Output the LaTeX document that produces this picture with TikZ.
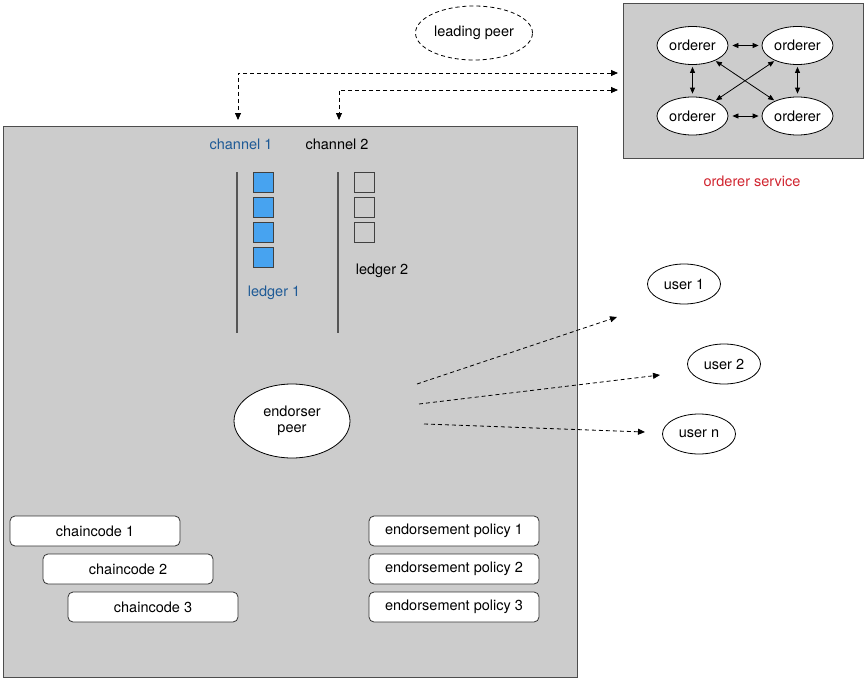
\documentclass[tikz,border=0pt]{standalone}
\usepackage{fontspec}
\setmainfont{TeX Gyre Heros}
\usetikzlibrary{shapes.geometric,arrows.meta}
\definecolor{panelgray}{HTML}{CCCCCC}
\definecolor{edgegray}{HTML}{4D4D4D}
\definecolor{railgray}{HTML}{555555}
\definecolor{blockblue}{HTML}{47A3F0}
\definecolor{chanblue}{HTML}{1E5A96}
\definecolor{svcred}{HTML}{D0242F}
\begin{document}
\begin{tikzpicture}[x=1pt,y=-1pt,
  every node/.style={font=\fontsize{14.5}{16}\selectfont},
  panel/.style={draw=edgegray,fill=panelgray,line width=1pt,inner sep=0},
  ell/.style={ellipse,draw=black,fill=white,line width=0.8pt,inner sep=0},
  card/.style={rectangle,rounded corners=5pt,draw=black!80,fill=white,line width=0.8pt,
               minimum width=170pt,minimum height=30pt,inner sep=0},
  block/.style={draw=black!75,line width=0.8pt,minimum size=20pt,inner sep=0},
  rail/.style={draw=railgray,line width=1.3pt},
  flow/.style={dash pattern=on 4pt off 3pt,line width=0.8pt,-{Triangle[length=7pt,width=6pt]}},
  twoflow/.style={dash pattern=on 4pt off 3pt,line width=0.8pt,
                  {Triangle[length=7pt,width=6pt]}-{Triangle[length=7pt,width=6pt]}},
  twoway/.style={line width=0.8pt,{Triangle[length=6pt,width=5pt]}-{Triangle[length=6pt,width=5pt]}}
]
\useasboundingbox (0,0) rectangle (865,680);

% peer panel and orderer panel
\node[panel,minimum width=574pt,minimum height=551pt,anchor=north west] (peerbox) at (3,126) {};
\node[panel,minimum width=240pt,minimum height=155pt,anchor=north west] (ordbox) at (623,3) {};

% orderer cluster
\node[ell,minimum width=71pt,minimum height=38pt] (o1) at (692.5,45.5) {orderer};
\node[ell,minimum width=71pt,minimum height=38pt] (o2) at (797.5,45.5) {orderer};
\node[ell,minimum width=71pt,minimum height=38pt] (o3) at (692.5,116) {orderer};
\node[ell,minimum width=71pt,minimum height=38pt] (o4) at (797.5,116) {orderer};
\draw[twoway,shorten <=4pt,shorten >=3pt] (o1) -- (o2);
\draw[twoway,shorten <=4pt,shorten >=3pt] (o3) -- (o4);
\draw[twoway,shorten <=2pt,shorten >=3pt] (o1) -- (o3);
\draw[twoway,shorten <=2pt,shorten >=3pt] (o2) -- (o4);
\draw[twoway,shorten <=1pt,shorten >=1pt] (o1) -- (o4);
\draw[twoway,shorten <=1pt,shorten >=1pt] (o2) -- (o3);
\node[text=svcred] (svc) at (752,181) {orderer service};

% leading peer
\node[ell,dash pattern=on 4pt off 3pt,minimum width=117pt,minimum height=54pt] (lead) at (474,33) {leading peer};

% channels
\node[text=chanblue] (ch1) at (241,144) {channel 1};
\node (ch2) at (337,144) {channel 2};
\coordinate (k1) at (238,73);
\coordinate (k2) at (339,90);
\draw[twoflow,shorten <=5pt,shorten >=6pt] (ordbox.west |- k1) -| (peerbox.north -| k1);
\draw[twoflow,shorten <=5pt,shorten >=6pt] (ordbox.west |- k2) -| (peerbox.north -| k2);

% ledgers
\coordinate (r1a) at (237,172); \coordinate (r1b) at (237,333);
\coordinate (r2a) at (338,172); \coordinate (r2b) at (338,333);
\draw[rail] (r1a) -- (r1b);
\draw[rail] (r2a) -- (r2b);
\foreach \i/\y in {1/182,2/207,3/232,4/257}
  \node[block,fill=blockblue] (ba\i) at (263.5,\y) {};
\foreach \i/\y in {1/182,2/207,3/232}
  \node[block,fill=panelgray] (bb\i) at (364,\y) {};
\node[text=chanblue] (led1) at (274,293) {ledger 1};
\node (led2) at (382,271) {ledger 2};

% endorser
\node[ell,minimum width=116pt,minimum height=74pt,align=center] (endorser) at (292,421) {endorser\\peer};

% users
\node[ell,minimum width=73pt,minimum height=40pt] (u1) at (684,284) {user 1};
\node[ell,minimum width=73pt,minimum height=40pt] (u2) at (724,364) {user 2};
\node[ell,minimum width=73pt,minimum height=40pt] (un) at (699,434) {user n};
\coordinate (s1) at (417,384); \coordinate (e1) at (617,317);
\coordinate (s2) at (419,404); \coordinate (e2) at (660,375);
\coordinate (s3) at (424,424); \coordinate (e3) at (645,432);
\draw[flow] (s1) -- (e1);
\draw[flow] (s2) -- (e2);
\draw[flow] (s3) -- (e3);

% chaincodes and policies
\node[card] (cc1) at (95,531) {chaincode 1};
\node[card] (cc2) at (128,569) {chaincode 2};
\node[card] (cc3) at (153,607) {chaincode 3};
\node[card] (ep1) at (454,531) {endorsement policy 1};
\node[card] (ep2) at (454,569) {endorsement policy 2};
\node[card] (ep3) at (454,607) {endorsement policy 3};
\end{tikzpicture}
\end{document}
